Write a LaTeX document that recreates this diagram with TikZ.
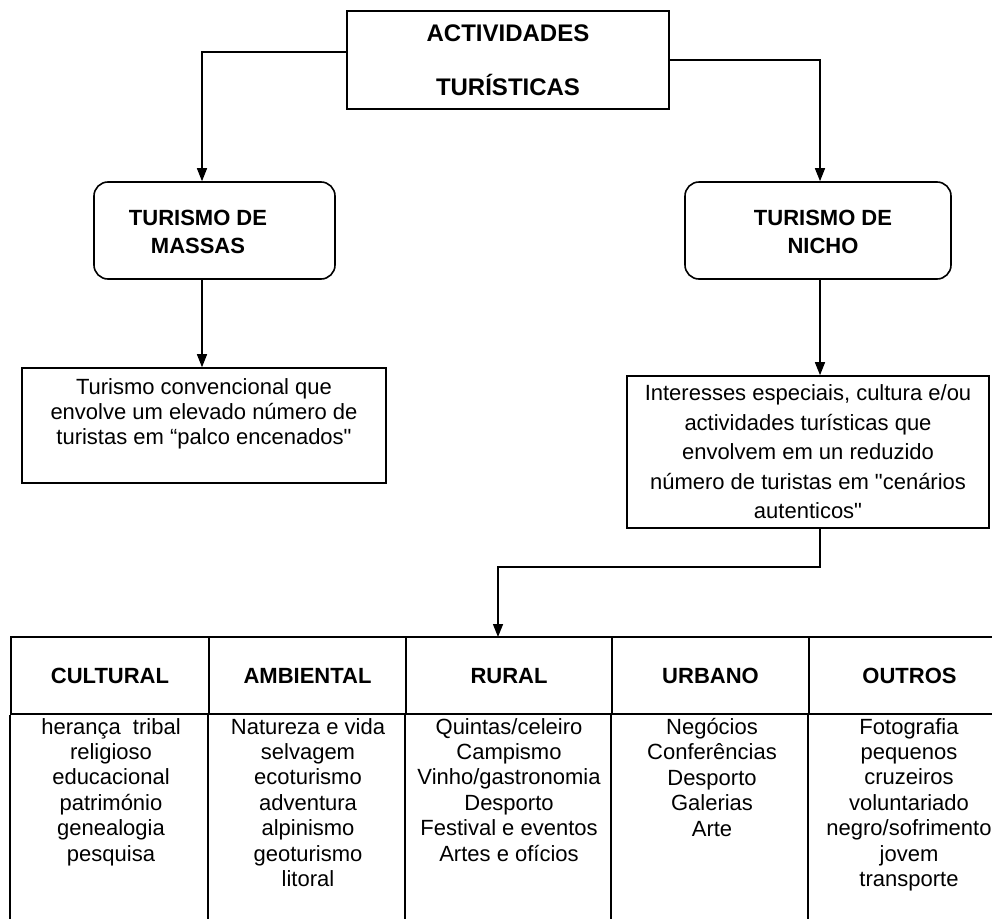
\documentclass[tikz,border=0pt]{standalone}
\usepackage{fontspec}
\setmainfont{Liberation Sans}
\usetikzlibrary{arrows.meta,calc}
\begin{document}
\begin{tikzpicture}[x=1pt,y=-1pt,
  box/.style={draw, line width=1.6pt, inner sep=0pt},
  rbox/.style={box, rounded corners=14pt},
  tcell/.style={draw, line width=1.8pt, inner sep=0pt, minimum height=77pt,
    text height=16pt, text depth=0pt,
    font=\fontsize{22}{26}\selectfont\bfseries},
  tline/.style={line width=1.8pt},
  arr/.style={line width=1.4pt, -{Triangle[length=13pt,width=10pt]}},
  bhead/.style={font=\fontsize{22}{28}\selectfont\bfseries, align=center, inner sep=0pt},
  btext/.style={font=\fontsize{22}{25.4}\selectfont, align=center, inner sep=0pt}
]
\useasboundingbox (0,0) rectangle (992,918);
\clip (0,0) rectangle (992,918);

% top box
\node[box, minimum width=322pt, minimum height=98pt,
  font=\fontsize{24}{29}\selectfont\bfseries, align=center] (top) at (508,60)
  {ACTIVIDADES\\[25pt]TURÍSTICAS};

% second level
\node[rbox, minimum width=241pt, minimum height=97pt] (massas) at (214.5,230.5) {};
\node[bhead] (massastxt) at (198,232) {TURISMO DE\\MASSAS};
\node[rbox, minimum width=266pt, minimum height=97pt] (nicho) at (818,230.5) {};
\node[bhead] (nichotxt) at (823,232) {TURISMO DE\\NICHO};

% descriptions
\node[box, minimum width=364pt, minimum height=115pt] (conv) at (204,425.5) {};
\node[btext, font=\fontsize{22}{25}\selectfont] (convtxt) at (204,414)
  {Turismo convencional que\\envolve um elevado número de\\turistas em “palco encenados\textquotedbl};
\node[box, minimum width=362pt, minimum height=152pt, align=center,
  font=\fontsize{22}{29.5}\selectfont] (nichodesc) at (808,452)
  {Interesses especiais, cultura e/ou\\actividades turísticas que\\envolvem em un reduzido\\número de turistas em \textquotedbl cenários\\autenticos\textquotedbl};

% connectors
\draw[arr] ([yshift=8pt]top.west) -| ([xshift=-12.5pt]massas.north);
\draw[arr] (top.east) -| ([xshift=2pt]nicho.north);
\draw[arr] ([xshift=-12.5pt]massas.south) -- ([xshift=-12.5pt]massas.south |- conv.north);
\draw[arr] ([xshift=2pt]nicho.south) -- ([xshift=2pt]nicho.south |- nichodesc.north);

% table header
\node[tcell, minimum width=198pt] (h1) at (110,675.5) {CULTURAL};
\node[tcell, minimum width=197pt] (h2) at (307.5,675.5) {AMBIENTAL};
\node[tcell, minimum width=206pt] (h3) at (509,675.5) {RURAL};
\node[tcell, minimum width=197pt] (h4) at (710.5,675.5) {URBANO};
\node[tcell, minimum width=201pt] (h5) at (909.5,675.5) {OUTROS};

\coordinate (tabin) at (498,637);
\draw[arr] ([xshift=12pt]nichodesc.south) -- ++(0,38) -| (tabin);

% table body lines
\foreach \c in {h1,h2,h3,h4,h5}{
  \draw[tline] (\c.south west) -- ++(0,220);
}
\draw[tline] (h5.south east) -- ++(0,220);

% table body text
\node[btext, anchor=north] (b1) at (111,718)
  {herança~ tribal\\religioso\\educacional\\património\\genealogia\\pesquisa};
\node[btext, anchor=north] (b2) at (308,718)
  {Natureza e vida\\selvagem\\ecoturismo\\adventura\\alpinismo\\geoturismo\\litoral};
\node[btext, anchor=north] (b3) at (509,718)
  {Quintas/celeiro\\Campismo\\Vinho/gastronomia\\Desporto\\Festival e eventos\\Artes e ofícios};
\node[btext, anchor=north] (b4) at (712,718)
  {Negócios\\Conferências\\Desporto\\Galerias\\Arte};
\node[btext, anchor=north] (b5) at (909,718)
  {Fotografia\\pequenos\\cruzeiros\\voluntariado\\negro/sofrimento\\jovem\\transporte};
\end{tikzpicture}
\end{document}
